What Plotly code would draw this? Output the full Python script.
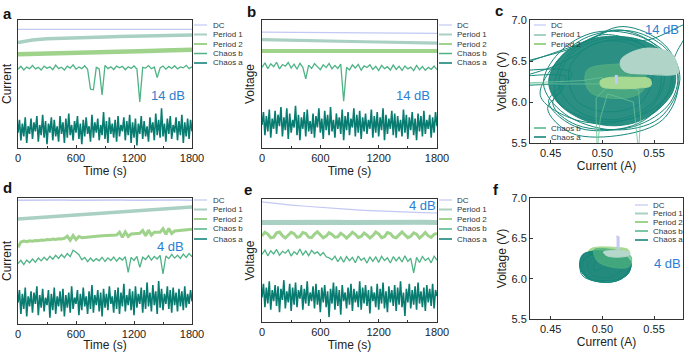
import plotly.graph_objects as go

W, H = 685, 352

# ---------------- data ----------------
t15 = list(range(0, 1801, 15))
t30 = list(range(0, 1801, 30))
t150 = list(range(0, 1801, 150))

names = ["DC", "Period 1", "Period 2", "Chaos b", "Chaos a"]
colors = {"DC": "#c3c8f4", "Period 1": "#a9d0c2", "Period 2": "#9fd38c",
          "Chaos b": "#4fb386", "Chaos a": "#097c71"}

# panel a (14 dB, current, arbitrary units)
a_dc = [92.7, 92.7, 92.7, 92.7, 92.7, 92.7, 92.7, 92.7, 92.7, 92.7, 92.7, 92.7, 92.7]
a_p1 = [82.5, 84.3, 85.3, 85.8, 86.2, 86.5, 86.8, 87.1, 87.3, 87.6, 87.8, 88.0, 88.2]
a_p2 = [73.2, 73.4, 73.7, 74.0, 74.3, 74.6, 74.9, 75.2, 75.5, 75.8, 76.1, 76.4, 76.7]
a_cb = [61.5, 63.8, 61.0, 63.2, 62.0, 64.5, 61.8, 63.0, 60.9, 64.0,
        62.2, 63.5, 61.2, 64.8, 62.0, 63.1, 61.0, 63.9, 62.4, 65.0,
        61.6, 63.3, 62.0, 64.2, 61.5, 46.0, 45.5, 63.0, 61.8, 41.5,
        64.6, 62.0, 63.4, 61.3, 64.0, 62.6, 63.8, 61.1, 63.5, 62.2,
        64.1, 61.7, 36.0, 63.0, 62.4, 64.4, 61.9, 63.2, 55.0, 62.5,
        64.0, 61.6, 63.7, 62.1, 64.3, 61.8, 63.4, 62.6, 64.6, 62.0,
        63.5]
a_ca = [12, 22, 6, 19, 9, 24, 4, 17, 11, 23,
        7, 20, 13, 25, 5, 18, 10, 26, 8, 21,
        3, 19, 12, 24, 6, 22, 9, 17, 5, 25,
        11, 20, 4, 23, 8, 27, 10, 18, 6, 21,
        12, 25, 7, 19, 3, 22, 9, 24, 11, 17,
        5, 26, 8, 20, 12, 23, 6, 18, 10, 28,
        7, 21, 4, 24, 11, 19, 8, 22, 5, 25,
        9, 18, 13, 24, 6, 21, 10, 26, 4, 20,
        8, 23, 2, 19, 11, 25, 7, 21, 9, 17,
        5, 24, 12, 20, 6, 27, 10, 22, 8, 31,
        9, 19, 5, 23, 11, 25, 7, 18, 12, 24,
        6, 21, 10, 26, 4, 20, 9, 23, 7, 22,
        13]

# panel b (14 dB, voltage)
b_dc = [90.6, 90.5, 90.4, 90.3, 90.2, 90.1, 90.0, 89.9, 89.8, 89.7, 89.6, 89.5, 89.5]
b_p1 = [84.6, 84.3, 84.0, 83.8, 83.6, 83.4, 83.2, 83.0, 82.8, 82.6, 82.4, 82.2, 82.0]
b_p2 = [75.8, 75.9, 75.8, 75.8, 75.7, 75.8, 75.8, 75.7, 75.8, 75.8, 75.7, 75.8, 75.8]
b_cb = [63.0, 66.5, 62.0, 65.8, 63.5, 67.0, 61.8, 65.2, 63.9, 66.8,
        62.4, 65.5, 61.5, 66.2, 63.0, 54.0, 64.8, 62.1, 65.9, 63.3,
        61.2, 65.0, 62.8, 66.1, 61.9, 64.5, 62.2, 65.6, 36.5, 63.0,
        61.0, 64.9, 62.5, 65.3, 60.8, 64.2, 62.9, 65.0, 61.3, 63.8,
        60.5, 64.6, 62.0, 63.5, 60.9, 64.8, 61.4, 63.9, 60.6, 64.1,
        61.8, 63.2, 60.4, 64.5, 61.1, 63.6, 60.7, 63.0, 61.5, 64.0,
        61.2]
b_ca = [18, 28, 10, 25, 13, 30, 8, 23, 15, 29,
        11, 26, 17, 32, 9, 24, 14, 31, 7, 27,
        12, 22, 16, 33, 10, 26, 6, 24, 15, 28,
        9, 30, 13, 21, 11, 27, 8, 25, 16, 31,
        12, 23, 7, 29, 14, 26, 10, 32, 13, 22,
        8, 27, 15, 24, 11, 30, 6, 25, 14, 28,
        10, 23, 16, 31, 9, 26, 12, 29, 7, 24,
        13, 27, 11, 22, 15, 30, 8, 25, 12, 28,
        9, 24, 14, 31, 6, 26, 11, 23, 15, 29,
        10, 27, 8, 25, 13, 22, 9, 30, 12, 26,
        7, 24, 14, 28, 10, 23, 6, 27, 13, 25,
        9, 29, 11, 22, 15, 26, 8, 24, 12, 28,
        17]

# panel d (4 dB, current)
d_dc = [98.3, 98.5, 98.2, 98.4, 98.3, 98.5, 98.2, 98.4, 98.3, 98.5, 98.2, 98.4, 98.3]
d_p1 = [83.3, 84.0, 84.8, 85.6, 86.4, 87.2, 88.0, 88.8, 89.6, 90.4, 91.2, 92.0, 92.8]
d_p2 = [61.0, 65.0, 65.8, 65.4, 66.0, 65.7, 66.3, 66.0, 66.6, 66.4,
        67.0, 66.8, 67.4, 67.1, 67.6, 67.5, 68.0, 69.8, 66.5, 70.2,
        67.0, 69.5, 68.5, 68.8, 69.0, 69.3, 69.2, 69.6, 69.8, 70.0,
        70.2, 70.1, 70.5, 70.8, 70.6, 72.8, 68.8, 73.0, 69.5, 71.4,
        71.6, 71.8, 72.0, 74.2, 70.0, 74.5, 70.6, 72.8, 73.0, 72.9,
        75.6, 71.2, 75.8, 71.8, 73.8, 74.0, 74.2, 74.5, 74.8, 75.0,
        75.2]
d_cb = [48.0, 50.5, 47.2, 50.8, 48.6, 51.5, 49.0, 52.3, 50.1, 53.0,
        50.6, 53.8, 51.4, 54.5, 52.0, 55.2, 52.6, 56.0, 53.5, 58.5,
        57.0, 55.0, 51.0, 52.8, 49.5, 52.3, 49.8, 51.9, 50.2, 53.0,
        49.6, 52.5, 50.4, 53.2, 49.9, 52.6, 50.8, 53.5, 41.0, 52.9,
        50.5, 53.7, 45.0, 53.0, 51.2, 54.2, 50.7, 53.6, 51.6, 54.5,
        39.7, 54.0, 51.9, 55.2, 52.3, 54.6, 52.0, 55.5, 52.8, 56.0,
        53.4]
d_ca = [17, 27, 8, 24, 12, 29, 6, 22, 14, 26,
        9, 25, 16, 30, 7, 23, 13, 28, 10, 21,
        15, 27, 5, 24, 11, 29, 8, 22, 14, 26,
        10, 28, 6, 23, 13, 25, 9, 30, 12, 21,
        16, 27, 7, 24, 11, 29, 14, 22, 8, 26,
        12, 31, 9, 23, 15, 27, 10, 25, 6, 28,
        13, 24, 11, 30, 16, 22, 9, 27, 12, 29,
        8, 25, 14, 32, 10, 23, 15, 28, 11, 26,
        7, 30, 13, 24, 16, 29, 9, 27, 12, 33,
        14, 25, 10, 31, 15, 26, 8, 34, 13, 28,
        11, 24, 16, 30, 12, 27, 9, 29, 15, 25,
        10, 28, 14, 26, 11, 30, 13, 24, 16, 27,
        18]

# panel e (4 dB, voltage)
e_dc = [97.6, 96.2, 95.1, 94.1, 93.1, 92.3, 91.5, 90.8, 90.2, 89.7, 89.2, 88.9, 88.6]
e_p1 = [80.9, 81.1, 80.8, 81.0, 80.9, 81.1, 80.8, 81.0, 80.9, 81.1, 80.8, 81.0, 80.9]
e_p2 = [70.0, 73.0, 71.5, 68.5, 69.0, 72.5, 73.2, 70.2, 68.3, 70.8,
        73.0, 71.8, 68.8, 69.5, 72.8, 72.0, 69.0, 68.6, 71.5, 73.4,
        71.0, 68.4, 69.8, 72.6, 71.2, 68.9, 69.3, 72.2, 70.5, 68.2,
        70.4, 72.9, 71.3, 68.7, 69.6, 72.4, 70.6, 68.3, 70.1, 73.1,
        71.6, 68.5, 69.4, 72.7, 71.9, 69.1, 68.4, 71.0, 73.3, 70.8,
        68.6, 69.7, 72.5, 71.4, 68.2, 70.3, 72.8, 70.0, 68.8, 71.2,
        72.0]
e_cb = [55.0, 58.5, 53.8, 57.9, 55.4, 59.0, 54.2, 57.5, 55.9, 58.6,
        53.6, 57.2, 55.0, 59.3, 54.5, 57.8, 53.9, 58.2, 55.6, 57.0,
        54.1, 56.5, 53.0, 52.2, 50.5, 53.5, 49.0, 52.8, 48.6, 53.2,
        49.8, 52.5, 48.2, 53.6, 50.2, 52.0, 47.9, 53.0, 49.4, 52.9,
        48.5, 53.4, 50.0, 52.2, 48.0, 53.1, 49.6, 52.7, 48.8, 53.8,
        49.2, 51.8, 40.0, 52.6, 48.4, 53.3, 49.9, 52.1, 48.1, 53.5,
        50.3]
e_ca = [20, 31, 12, 28, 15, 33, 10, 26, 17, 30,
        13, 29, 8, 27, 18, 34, 11, 25, 16, 31,
        9, 28, 14, 32, 12, 26, 19, 30, 10, 27,
        15, 33, 13, 24, 17, 29, 11, 31, 14, 26,
        8, 28, 16, 30, 12, 25, 4, 27, 15, 32,
        10, 29, 13, 26, 6, 30, 17, 24, 11, 28,
        14, 31, 9, 27, 16, 25, 12, 33, 10, 28,
        15, 30, 13, 26, 7, 29, 17, 24, 12, 31,
        10, 27, 15, 32, 11, 25, 8, 29, 16, 26,
        13, 30, 9, 28, 14, 33, 12, 24, 5, 27,
        16, 31, 11, 26, 14, 29, 10, 32, 15, 25,
        12, 28, 9, 30, 16, 27, 13, 31, 11, 26,
        21]

# panel c (14 dB, V-I phase plane)
c_ca_core_I = [0.505, 0.530, 0.548, 0.560, 0.568, 0.571, 0.568, 0.560, 0.548, 0.532, 0.512,
               0.492, 0.475, 0.460, 0.451, 0.448, 0.452, 0.462, 0.476, 0.490, 0.505]
c_ca_core_V = [6.80, 6.78, 6.70, 6.58, 6.45, 6.30, 6.12, 5.98, 5.85, 5.75, 5.71,
               5.74, 5.82, 5.95, 6.10, 6.25, 6.42, 6.58, 6.70, 6.77, 6.80]
c_ca_I = [0.512, 0.545, 0.500, 0.462, 0.455, 0.490, 0.540, 0.568, 0.555, 0.515,
          0.472, 0.400, 0.470, 0.452, 0.475, 0.530, 0.566, 0.572, 0.540, 0.493,
          0.458, 0.443, 0.463, 0.510, 0.555, 0.575, 0.560, 0.520, 0.480, 0.400,
          0.465, 0.448, 0.478, 0.535, 0.563, 0.570, 0.585, 0.545, 0.500, 0.456,
          0.400, 0.462, 0.447, 0.470, 0.520, 0.558, 0.573, 0.565, 0.530, 0.487,
          0.460, 0.440, 0.470, 0.512, 0.548, 0.560, 0.540, 0.505, 0.470, 0.458,
          0.480, 0.520, 0.552, 0.555, 0.525, 0.490, 0.468, 0.475, 0.505, 0.538,
          0.548, 0.515]
c_ca_V = [6.25, 6.62, 6.82, 6.50, 6.05, 5.78, 5.85, 6.20, 6.65, 6.88,
          6.66, 6.38, 6.36, 5.98, 5.72, 5.70, 6.00, 6.42, 6.78, 6.85,
          6.60, 6.22, 5.86, 5.66, 5.80, 6.28, 6.70, 6.92, 6.72, 6.32,
          6.30, 6.00, 5.68, 5.74, 6.10, 6.55, 6.95, 6.76, 6.74, 6.45,
          6.20, 6.18, 5.92, 5.62, 5.60, 5.78, 6.15, 6.60, 6.86, 6.80,
          6.55, 6.08, 5.80, 5.75, 5.95, 6.35, 6.68, 6.78, 6.58, 6.20,
          5.86, 5.80, 6.05, 6.45, 6.72, 6.70, 6.40, 6.02, 5.88, 6.00,
          6.35, 6.25]
c_cb_core_I = [0.486, 0.510, 0.532, 0.542, 0.540, 0.528, 0.505, 0.488, 0.483, 0.486]
c_cb_core_V = [6.40, 6.46, 6.44, 6.32, 6.15, 6.06, 6.05, 6.12, 6.28, 6.40]
c_cb_I = [0.510, 0.494, 0.494, 0.495, 0.498, 0.505, 0.530, 0.533, 0.535, 0.537,
          0.535, 0.500, 0.400, 0.480, 0.500]
c_cb_V = [6.25, 6.05, 5.80, 5.40, 5.80, 6.10, 6.00, 5.70, 5.40, 5.80,
          6.15, 6.22, 6.22, 6.26, 6.30]
c_p1_I = [0.5189, 0.5411, 0.5665, 0.5729, 0.5729, 0.5410, 0.5220, 0.5173, 0.5189]
c_p1_V = [6.533, 6.655, 6.594, 6.431, 6.350, 6.340, 6.370, 6.450, 6.533]
c_p2_I = [0.498, 0.505, 0.530, 0.546, 0.547, 0.535, 0.510, 0.499, 0.498]
c_p2_V = [6.26, 6.295, 6.30, 6.28, 6.20, 6.17, 6.165, 6.19, 6.26]
c_dc_I = [0.5135, 0.5138, 0.5135]
c_dc_V = [6.22, 6.28, 6.33]

# panel f (4 dB, V-I phase plane)
f_ca_core_I = [0.481, 0.490, 0.505, 0.520, 0.527, 0.526, 0.518, 0.503, 0.488, 0.480, 0.478, 0.481]
f_ca_core_V = [6.30, 6.34, 6.33, 6.29, 6.20, 6.08, 6.00, 5.97, 5.99, 6.08, 6.20, 6.30]
f_ca_I = [0.503, 0.520, 0.500, 0.482, 0.485, 0.505, 0.524, 0.527, 0.510, 0.488,
          0.479, 0.492, 0.515, 0.526, 0.522, 0.497, 0.481, 0.480, 0.498, 0.519,
          0.528, 0.515, 0.492, 0.478, 0.487, 0.510, 0.525, 0.524, 0.503, 0.486,
          0.490, 0.508, 0.520, 0.512, 0.495, 0.492, 0.503]
f_ca_V = [6.15, 6.28, 6.33, 6.22, 6.02, 5.97, 6.05, 6.22, 6.32, 6.30,
          6.12, 5.98, 5.98, 6.12, 6.30, 6.35, 6.28, 6.05, 5.96, 6.00,
          6.18, 6.31, 6.32, 6.18, 6.00, 5.96, 6.08, 6.26, 6.30, 6.20,
          6.05, 6.02, 6.14, 6.26, 6.24, 6.10, 6.15]
f_cb_I = [0.492, 0.520, 0.528, 0.526, 0.510, 0.495, 0.492]
f_cb_V = [6.36, 6.33, 6.27, 6.15, 6.14, 6.22, 6.36]
f_p2_I = [0.487, 0.492, 0.515, 0.525, 0.526, 0.505, 0.488, 0.487]
f_p2_V = [6.35, 6.385, 6.385, 6.36, 6.30, 6.28, 6.30, 6.35]
f_p1_I = [0.501, 0.505, 0.524, 0.527, 0.524, 0.505, 0.501]
f_p1_V = [6.33, 6.345, 6.335, 6.31, 6.28, 6.28, 6.33]
f_dc_I = [0.5140, 0.5152, 0.5152]
f_dc_V = [6.51, 6.52, 6.36]

time_ticks = [0, 600, 1200, 1800]
cur_ticks = [0.45, 0.50, 0.55]
volt_ticks = [5.5, 6.0, 6.5, 7.0]

# ---------------- layout helpers ----------------
panels = {  # pixel boxes: x0, x1, y0(top), y1(bottom)
    "a": (18, 192, 20, 148),
    "b": (262, 437, 20, 148),
    "c": (530, 683, 20, 143),
    "d": (18, 192, 198, 324),
    "e": (262, 437, 199, 322),
    "f": (530, 683, 198, 319),
}
axid = {"a": 1, "b": 2, "c": 3, "d": 4, "e": 5, "f": 6}
FONT = "Liberation Sans, Arial, sans-serif"
TXT = "#222222"

fig = go.Figure()


def refs(k):
    i = axid[k]
    return ("x" if i == 1 else f"x{i}"), ("y" if i == 1 else f"y{i}")


def add_line(k, x, y, name, width, shape="linear", opacity=1.0, color=None):
    xr, yr = refs(k)
    fig.add_trace(go.Scatter(x=x, y=y, mode="lines", name=name, showlegend=False,
                             line=dict(color=color or colors[name], width=width, shape=shape),
                             opacity=opacity, xaxis=xr, yaxis=yr, hoverinfo="skip"))


def add_fill(k, x, y, name, fillcolor):
    xr, yr = refs(k)
    fig.add_trace(go.Scatter(x=x, y=y, mode="lines", name=name, showlegend=False,
                             fill="toself", fillcolor=fillcolor,
                             line=dict(color=fillcolor, width=1, shape="spline"),
                             xaxis=xr, yaxis=yr, hoverinfo="skip"))


# time-series panels
ts = {
    "a": (a_dc, a_p1, a_p2, a_cb, a_ca, (1.2, 3.5, 4.5)),
    "b": (b_dc, b_p1, b_p2, b_cb, b_ca, (1.2, 3.2, 4.0)),
    "d": (d_dc, d_p1, d_p2, d_cb, d_ca, (1.5, 3.5, 3.0)),
    "e": (e_dc, e_p1, e_p2, e_cb, e_ca, (1.2, 5.0, 3.0)),
}
for k, (dc, p1, p2, cb, ca, w) in ts.items():
    add_line(k, t15, ca, "Chaos a", 1.6)
    add_line(k, t30, cb, "Chaos b", 1.3)
    add_line(k, t30 if len(p2) == 61 else t150, p2, "Period 2", w[2])
    add_line(k, t150, p1, "Period 1", w[1])
    add_line(k, t150, dc, "DC", w[0])

# phase panel c
add_fill("c", c_ca_core_I, c_ca_core_V, "Chaos a", "rgba(14,128,114,0.88)")
add_line("c", c_ca_I, c_ca_V, "Chaos a", 1.0, shape="spline", color="#17887c")
add_fill("c", c_cb_core_I, c_cb_core_V, "Chaos b", "rgba(88,178,128,0.65)")
add_line("c", c_cb_I, c_cb_V, "Chaos b", 1.0, opacity=0.8, color="#6cc29b")
add_fill("c", c_p1_I, c_p1_V, "Period 1", "#b0d5c8")
add_fill("c", c_p2_I, c_p2_V, "Period 2", "#a8d992")
add_line("c", c_dc_I, c_dc_V, "DC", 3)

# phase panel f
add_fill("f", f_p2_I, f_p2_V, "Period 2", "#a8d992")
add_fill("f", f_ca_core_I, f_ca_core_V, "Chaos a", "rgba(12,125,112,0.9)")
add_line("f", f_ca_I, f_ca_V, "Chaos a", 1.0, shape="spline", color="#17887c")
add_fill("f", f_cb_I, f_cb_V, "Chaos b", "rgba(80,180,125,0.7)")
add_fill("f", f_p1_I, f_p1_V, "Period 1", "#b6d8cc")
add_line("f", f_dc_I, f_dc_V, "DC", 3)

layout = dict(width=W, height=H, margin=dict(l=0, r=0, t=0, b=0, pad=0, autoexpand=False),
              paper_bgcolor="white", plot_bgcolor="white", showlegend=False,
              font=dict(family=FONT, size=11, color=TXT))

axis_common = dict(showline=True, mirror=True, linecolor="#333333", linewidth=1,
                   showgrid=False, zeroline=False, ticks="inside", ticklen=3,
                   tickcolor="#333333", tickfont=dict(size=11, color=TXT), automargin=False)

ylabels = {"a": "Current", "b": "Voltage", "d": "Current", "e": "Voltage"}
for k, (x0, x1, y0, y1) in panels.items():
    i = axid[k]
    xr, yr = refs(k)
    xa = dict(axis_common, domain=[x0 / W, x1 / W], anchor=yr)
    ya = dict(axis_common, domain=[1 - y1 / H, 1 - y0 / H], anchor=xr)
    if k in ts:
        xa.update(range=[0, 1800], tickvals=time_ticks,
                  minor=dict(tickvals=[300, 900, 1500], ticks="inside", ticklen=2, tickcolor="#333333"),
                  title=dict(text="Time (s)", font=dict(size=12, color=TXT), standoff=1))
        ya.update(range=[0, 100], showticklabels=False, ticks="",
                  title=dict(text=ylabels[k], font=dict(size=12, color=TXT), standoff=3))
    else:
        xa.update(range=[0.43, 0.578], tickvals=cur_ticks, ticktext=["0.45", "0.50", "0.55"],
                  title=dict(text="Current (A)", font=dict(size=12, color=TXT), standoff=3))
        ya.update(range=[5.5, 7.0], tickvals=volt_ticks, ticktext=["5.5", "6.0", "6.5", "7.0"],
                  title=dict(text="Voltage (V)", font=dict(size=12, color=TXT), standoff=2))
    layout["xaxis" if i == 1 else f"xaxis{i}"] = xa
    layout["yaxis" if i == 1 else f"yaxis{i}"] = ya

fig.update_layout(**layout)


def px(x):
    return x / W


def py(y):
    return 1 - y / H


# panel letters
letters = {"a": (8, 13), "b": (252, 11), "c": (499, 10), "d": (7, 187), "e": (248, 189), "f": (496, 189)}
for k, (x, y) in letters.items():
    fig.add_annotation(x=px(x), y=py(y), xref="paper", yref="paper", text=f"<b>{k}</b>",
                       showarrow=False, font=dict(size=15, color="#111111"),
                       xanchor="center", yanchor="middle")

# dB labels
db = [("14 dB", 168, 95), ("14 dB", 413, 95), ("14 dB", 662, 30),
      ("4 dB", 170, 246), ("4 dB", 422, 205), ("4 dB", 667, 263)]
for txt, x, y in db:
    fig.add_annotation(x=px(x), y=py(y), xref="paper", yref="paper", text=txt, showarrow=False,
                       font=dict(size=13, color="#2b7fd2"), xanchor="center", yanchor="middle")

# legends (manual, compact)
leg_w = {"DC": 1.2, "Period 1": 2.0, "Period 2": 2.0, "Chaos b": 1.5, "Chaos a": 1.5}


def legend_item(name, lx0, lx1, tx, y, size=8):
    fig.add_shape(type="line", xref="paper", yref="paper", x0=px(lx0), x1=px(lx1), y0=py(y), y1=py(y),
                  line=dict(color=colors[name], width=leg_w[name]))
    fig.add_annotation(x=px(tx), y=py(y), xref="paper", yref="paper", text=name, showarrow=False,
                       font=dict(size=size, color="#333333"), xanchor="left", yanchor="middle")


for (lx0, lx1, tx, ys) in [(194, 207, 211, [25, 34.5, 44, 53.5, 63]),
                            (439, 452, 455, [25, 34.5, 44, 53.5, 63]),
                            (194, 207, 211, [200, 209.5, 219, 229, 239]),
                            (439, 452, 455, [200, 209.5, 219, 229, 239])]:
    for n, y in zip(names, ys):
        legend_item(n, lx0, lx1, tx, y)

for n, y in zip(names, [25, 35, 44, 128, 137]):
    legend_item(n, 534, 546, 549, y)
for n, y in zip(names, [205, 213.5, 222, 231, 240]):
    legend_item(n, 635, 648, 651, y)

fig.write_html("out.html", config={"displayModeBar": False},
               post_script="document.body.style.margin='0';document.body.style.overflow='hidden';")
